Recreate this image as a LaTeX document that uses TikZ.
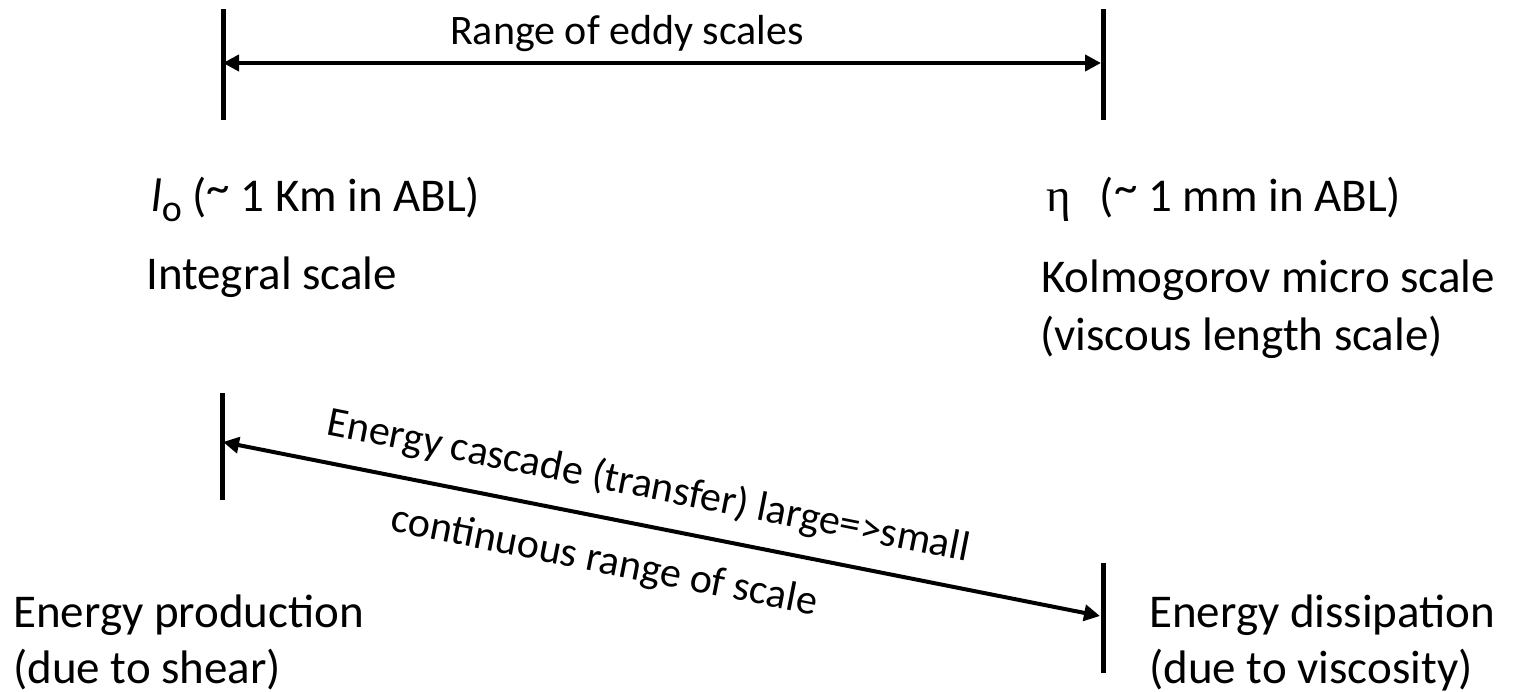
\documentclass[tikz,border=0pt]{standalone}
\usepackage{fontspec}
\setmainfont{Carlito}
\newfontfamily\greekfont{Liberation Serif}
\usetikzlibrary{arrows.meta}
% raised tilde, as set in the labels
\newcommand{\hightilde}{\raisebox{8pt}{\char"007E}}

\begin{document}
\begin{tikzpicture}[x=1pt,y=-1pt,
  bar/.style={line width=5pt},
  span/.style={line width=4pt,
    {Triangle[length=16pt,width=16pt]}-{Triangle[length=16pt,width=16pt]}},
  lbl/.style={anchor=base west, inner sep=0pt, font=\fontsize{47}{57}\selectfont},
  note/.style={anchor=base, inner sep=0pt, font=\fontsize{42}{50}\selectfont}]
\useasboundingbox (0,0) rectangle (1517,692);

% scale limits: bar ends
\coordinate (tlA) at (223,9);   \coordinate (tlB) at (223,120);
\coordinate (trA) at (1103,9);  \coordinate (trB) at (1103,120);
\coordinate (blA) at (222,393); \coordinate (blB) at (222,500);
\coordinate (brA) at (1103,563);\coordinate (brB) at (1103,673);

\draw[bar] (tlA) -- (tlB);
\draw[bar] (trA) -- (trB);
\draw[bar] (blA) -- (blB);
\draw[bar] (brA) -- (brB);

% arrow tips on the bars
\coordinate (rangeL) at (223,63);
\coordinate (rangeR) at (1101,63);
\coordinate (cascL) at (223,442);
\coordinate (cascR) at (1100,616);

\draw[span] (rangeL) -- (rangeR);
\draw[span] (cascL) -- (cascR);

\node[note] (range) at (627,45) {Range of eddy scales};
\node[note, rotate=-11.2] (cascade) at (646,498) {Energy cascade (transfer) large=>small};
\node[note, rotate=-11.2] (cont) at (602,573) {continuous range of scale};

% integral scale side
\node[lbl] (lo) at (151,212) {{\itshape l}\raisebox{-10pt}{\fontsize{38}{38}\selectfont o} (\hightilde{} 1 Km in ABL)};
\node[lbl] (integral) at (146,290) {Integral scale};
\node[lbl] (prod1) at (13,627) {Energy production};
\node[lbl] (prod2) at (13,683) {(due to shear)};

% Kolmogorov side
\node[lbl] (eta) at (1046,212) {{\greekfont η}\hspace{29pt}(\hightilde{} 1 mm in ABL)};
\node[lbl] (kolm) at (1041,293) {Kolmogorov micro scale};
\node[lbl] (visc) at (1040,350) {(viscous length scale)};
\node[lbl] (diss1) at (1149,627) {Energy dissipation};
\node[lbl] (diss2) at (1149,683) {(due to viscosity)};
\end{tikzpicture}
\end{document}
